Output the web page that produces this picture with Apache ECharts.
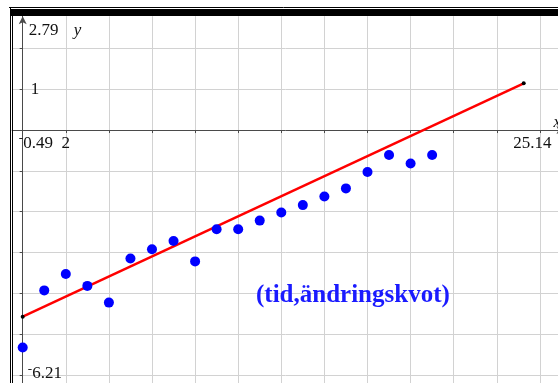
<!DOCTYPE html>
<html>
<head>
<meta charset="utf-8">
<script src="https://cdn.jsdelivr.net/npm/echarts@6/dist/echarts.min.js"></script>
<style>
html,body{margin:0;padding:0;background:#fff;}
#c{width:558px;height:383px;}
</style>
</head>
<body>
<div id="c"></div>
<script>
// ---- data ----
const tid = [0,1,2,3,4,5,6,7,8,9,10,11,12,13,14,15,16,17,18,19];
const andringskvot = [-5.33,-3.93,-3.53,-3.82,-4.23,-3.15,-2.92,-2.72,-3.22,-2.43,-2.43,-2.22,-2.02,-1.84,-1.63,-1.43,-1.03,-0.61,-0.82,-0.61];
const fitX = [0, 23.25];
const fitY = [-4.575, 1.145];
const xWindow = [-0.49, 25.14];
const yWindow = [-6.21, 2.79];
const xGridValues = [0,2,4,6,8,10,12,14,16,18,20,22,24];
const yGridValues = [-6,-5,-4,-3,-2,-1,0,1,2];
const xTickLabels = [2];
const yTickLabels = [1];
const plotLabel = '(tid,ändringskvot)';

const serif = "'Liberation Serif', 'DejaVu Serif', serif";
const axisColor = '#4a4a4a';
const gridColor = '#d2d2d2';

const chart = echarts.init(document.getElementById('c'), null, {renderer: 'canvas'});

const scatterData = tid.map((x, i) => [x, andringskvot[i]]);
const fitData = fitX.map((x, i) => [x, fitY[i]]);

chart.setOption({
  animation: false,
  backgroundColor: '#ffffff',
  grid: {left: 12.14, top: 16.2, width: 552.3, height: 367.2, containLabel: false, outerBoundsMode: 'none'},
  xAxis: {
    type: 'value',
    min: xWindow[0], max: xWindow[1],
    axisLine: {show: true, onZero: true, symbol: ['none', 'arrow'], symbolSize: [6, 8],
      lineStyle: {color: axisColor, width: 1}},
    axisTick: {show: true, customValues: xGridValues, length: 3, lineStyle: {color: axisColor}},
    axisLabel: {show: false},
    splitLine: {show: true, lineStyle: {color: gridColor, width: 1}}
  },
  yAxis: {
    type: 'value',
    min: yWindow[0], max: yWindow[1],
    axisLine: {show: true, onZero: true, symbol: ['none', 'arrow'], symbolSize: [6, 8],
      lineStyle: {color: axisColor, width: 1}},
    axisTick: {show: true, customValues: yGridValues, length: 3, lineStyle: {color: axisColor}},
    axisLabel: {show: false},
    splitLine: {show: true, lineStyle: {color: gridColor, width: 1}}
  },
  series: [
    {
      type: 'line',
      data: fitData,
      symbol: 'circle', symbolSize: 4, showSymbol: true,
      itemStyle: {color: '#000'},
      lineStyle: {color: '#ff0000', width: 2.5},
      z: 3
    },
    {
      type: 'scatter',
      data: scatterData,
      symbol: 'circle', symbolSize: 10,
      itemStyle: {color: '#0000ff', opacity: 1},
      z: 4
    }
  ]
});

const axisText = {fontFamily: serif, fontSize: 17, fill: '#111'};
function txt(text, x, y, align, extra) {
  return {type: 'text', x: x, y: y, z: 50,
    style: Object.assign({text: text, align: align, verticalAlign: 'middle'}, axisText, extra || {})};
}
const px = v => chart.convertToPixel({gridIndex: 0}, v);
const p0 = px([0, 0]);
const pTop = px([0, yWindow[1]]);
const pBot = px([0, yWindow[0]]);
const pRight = px([xWindow[1], 0]);

const graphics = [
  // frame
  {type: 'rect', shape: {x: 0, y: 0, width: 558, height: 9}, style: {fill: '#fff'}, z: 100},
  {type: 'rect', shape: {x: 0, y: 0, width: 10, height: 383}, style: {fill: '#fff'}, z: 100},
  {type: 'line', shape: {x1: 9, y1: 7.5, x2: 558, y2: 7.5}, style: {stroke: '#000', lineWidth: 1}, z: 101},
  {type: 'rect', shape: {x: 10, y: 9, width: 548, height: 7}, style: {fill: '#000'}, z: 101},
  {type: 'line', shape: {x1: 10.5, y1: 7, x2: 10.5, y2: 383}, style: {stroke: '#000', lineWidth: 1}, z: 101},
  {type: 'line', shape: {x1: 12.5, y1: 9, x2: 12.5, y2: 383}, style: {stroke: '#000', lineWidth: 1}, z: 101},
  // window labels
  txt('2.79', p0[0] + 6, pTop[1] + 14, 'left'),
  txt('y', p0[0] + 51, pTop[1] + 14, 'left', {fontStyle: 'italic'}),
  txt('-', p0[0] + 0.5, p0[1] + 9, 'right', {fontSize: 13}),
  txt('0.49', p0[0] + 0.5, p0[1] + 13, 'left'),
  txt('25.14', pRight[0] - 13, p0[1] + 13, 'right'),
  txt('x', pRight[0] - 11, p0[1] - 8, 'left', {fontStyle: 'italic'}),
  txt('-', p0[0] + 9.5, pBot[1] - 14, 'right', {fontSize: 13}),
  txt('6.21', p0[0] + 9.5, pBot[1] - 10, 'left'),
  // plot label
  {type: 'text', x: 256, y: 296, z: 50, style: {text: plotLabel, align: 'left', verticalAlign: 'middle', fontFamily: serif, fontSize: 25, fontWeight: 'bold', fill: '#1a1aff'}}
];
// tick labels
xTickLabels.forEach(v => { const p = px([v, 0]); graphics.push(txt(String(v), p[0], p[1] + 13, 'center')); });
yTickLabels.forEach(v => { const p = px([0, v]); graphics.push(txt(String(v), p[0] + 8, p[1], 'left')); });

chart.setOption({graphic: graphics});
</script>
</body>
</html>
